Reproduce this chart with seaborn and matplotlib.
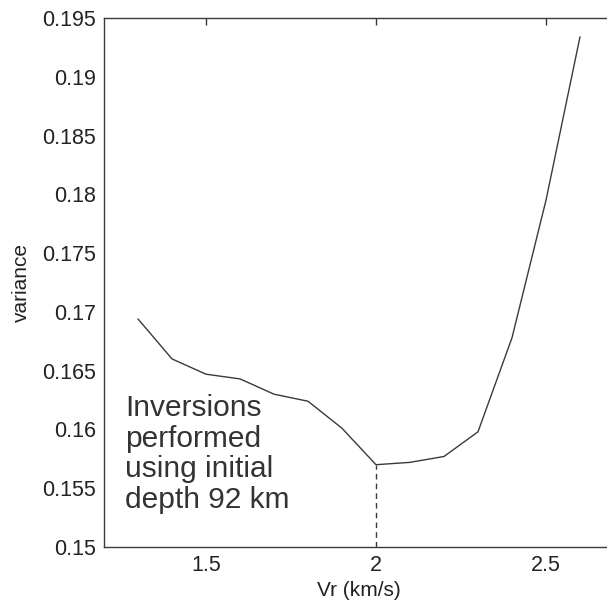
import matplotlib
matplotlib.use("Agg")
import matplotlib.pyplot as plt
import seaborn as sns
import pandas as pd

vr = [1.3, 1.4, 1.5, 1.6, 1.7, 1.8, 1.9, 2.0, 2.1, 2.2, 2.3, 2.4, 2.5, 2.6]
variance = [0.1694, 0.1660, 0.1647, 0.1643, 0.1630, 0.1624, 0.1601, 0.1570,
            0.1572, 0.1577, 0.1598, 0.1678, 0.1795, 0.1934]
best_vr = 2.0
best_var = 0.1570
xticks = [1.5, 2.0, 2.5]
xticklabels = ["1.5", "2", "2.5"]
yticks = [0.15, 0.155, 0.16, 0.165, 0.17, 0.175, 0.18, 0.185, 0.19, 0.195]
yticklabels = ["0.15", "0.155", "0.16", "0.165", "0.17", "0.175", "0.18", "0.185", "0.19", "0.195"]
annotation = "Inversions\nperformed\nusing initial\ndepth 92 km"

sns.set_theme(style="white")
plt.rcParams['font.family'] = ['Liberation Sans', 'DejaVu Sans']

df = pd.DataFrame({"Vr": vr, "variance": variance})

fig = plt.figure(figsize=(6.07, 6.07), dpi=100)
ax = fig.add_axes([104/607, 60/607, 510/607, 529/607])

sns.lineplot(data=df, x="Vr", y="variance", ax=ax, color="#3a3a3a", linewidth=1.0)
ax.plot([best_vr, best_vr], [0.15, best_var], color="#3a3a3a", linestyle=(0, (4, 3)), linewidth=1.0)

ax.set_xlim(1.2, 2.7)
ax.set_ylim(0.15, 0.195)
ax.set_xticks(xticks)
ax.set_xticklabels(xticklabels)
ax.set_yticks(yticks)
ax.set_yticklabels(yticklabels)
ax.tick_params(direction="in", length=5, width=1, color="#3a3a3a", top=True, right=False,
               labelsize=15.5, labelcolor="#222222", pad=6)
for s in ax.spines.values():
    s.set_color("#3a3a3a")
    s.set_linewidth(1.0)
ax.spines["right"].set_visible(False)

ax.set_xlabel("Vr (km/s)", fontsize=15, color="#222222", labelpad=3)
ax.set_ylabel("variance", fontsize=15, color="#222222", labelpad=8)

ax.text(1.262, 0.1630, annotation, fontsize=21.5, color="#333333", ha="left", va="top",
        linespacing=1.12)

fig.savefig("out.png", dpi=100)
